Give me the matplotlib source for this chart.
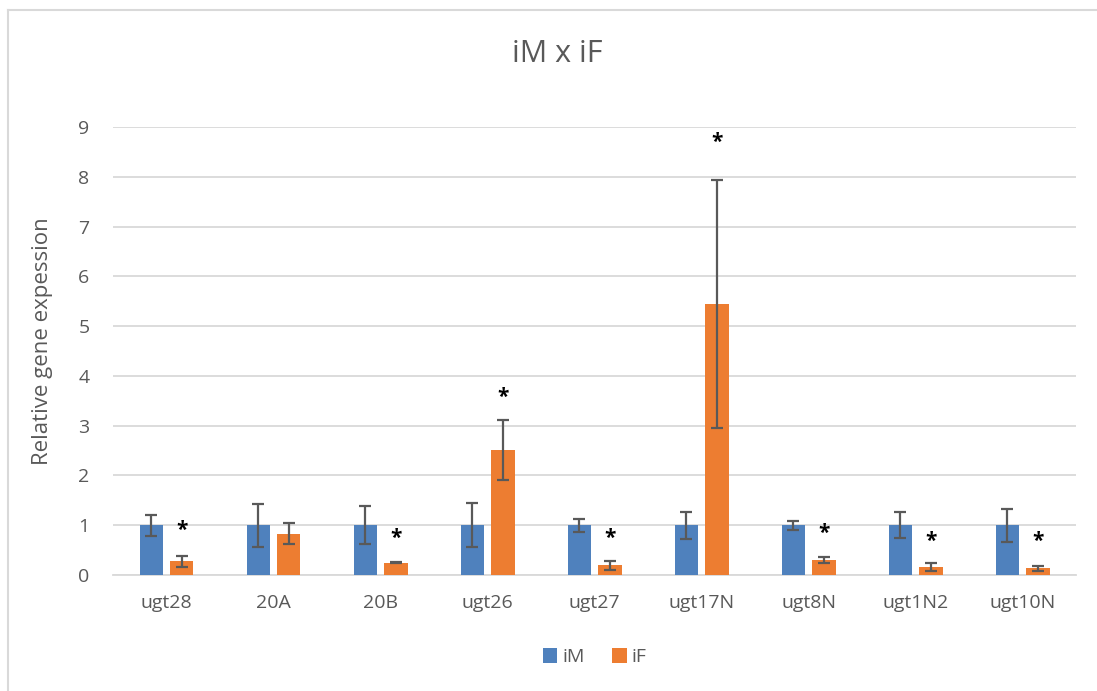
import matplotlib.pyplot as plt
import numpy as np
from matplotlib.lines import Line2D

plt.rcParams['font.family'] = ['Open Sans', 'DejaVu Sans']

genes = ["ugt28", "20A", "20B", "ugt26", "ugt27", "ugt17N", "ugt8N", "ugt1N2", "ugt10N"]
im_mean = [1, 1, 1, 1, 1, 1, 1, 1, 1]
im_err = [0.21, 0.43, 0.38, 0.44, 0.13, 0.27, 0.09, 0.26, 0.33]
if_mean = [0.27, 0.83, 0.24, 2.51, 0.19, 5.44, 0.30, 0.155, 0.13]
if_err = [0.11, 0.21, 0.01, 0.60, 0.09, 2.49, 0.07, 0.08, 0.05]
# height of the significance star over each iF bar (None = not significant)
star_y = [1.0, None, 0.84, 3.67, 0.84, 8.8, 0.94, 0.78, 0.78]

BLUE = "#4F81BD"
ORANGE = "#ED7D31"
GREY = "#595959"

fig = plt.figure(figsize=(10.97, 6.91), dpi=100)
ax = fig.add_axes([0.103, 0.168, 0.878, 0.648])

x = np.arange(len(genes))
w = 0.22
off = 0.142
ekw = dict(ecolor=GREY, elinewidth=1.6, capsize=4.5, capthick=1.6)
ax.bar(x - off, im_mean, w, yerr=im_err, color=BLUE, label="iM", error_kw=ekw, zorder=3)
ax.bar(x + off, if_mean, w, yerr=if_err, color=ORANGE, label="iF", error_kw=ekw, zorder=3)

for i, s in enumerate(star_y):
    if s is not None:
        ax.annotate("*", (x[i] + off, s), xytext=(0, -4), textcoords="offset points",
                    ha="center", va="center", fontsize=15, fontweight="bold",
                    color="black", zorder=4)

ax.set_xlim(-0.5, len(genes) - 0.5)
ax.set_ylim(0, 9)
ax.set_yticks(range(10))
ax.set_xticks(x)
ax.set_xticklabels(genes)
ax.grid(axis="y", color="#D9D9D9", linewidth=1.3, zorder=0)
for sp in ["top", "right", "left"]:
    ax.spines[sp].set_visible(False)
ax.spines["bottom"].set_color("#D9D9D9")
ax.spines["bottom"].set_linewidth(1.3)
ax.tick_params(axis="both", length=0, labelsize=14, labelcolor=GREY)
ax.tick_params(axis="y", pad=17)
ax.tick_params(axis="x", pad=14)

ax.set_ylabel("Relative gene expession", fontsize=16, color=GREY)
ax.yaxis.set_label_coords(-0.062, 0.522)
fig.text(0.508, 0.922, "iM x iF", ha="center", va="center", fontsize=22, color=GREY)

ax.legend(loc="upper center", bbox_to_anchor=(0.5, -0.125), ncol=2, frameon=False,
          fontsize=14, labelcolor=GREY, handlelength=0.75, handleheight=0.75,
          columnspacing=1.4, handletextpad=0.25)

# outer chart frame (left and top edges)
fig.add_artist(Line2D([8 / 1097, 8 / 1097], [0, 1 - 10 / 691], color="#D9D9D9", linewidth=1.5))
fig.add_artist(Line2D([8 / 1097, 1], [1 - 10 / 691, 1 - 10 / 691], color="#D9D9D9", linewidth=1.5))

fig.savefig("out.png", dpi=100)
